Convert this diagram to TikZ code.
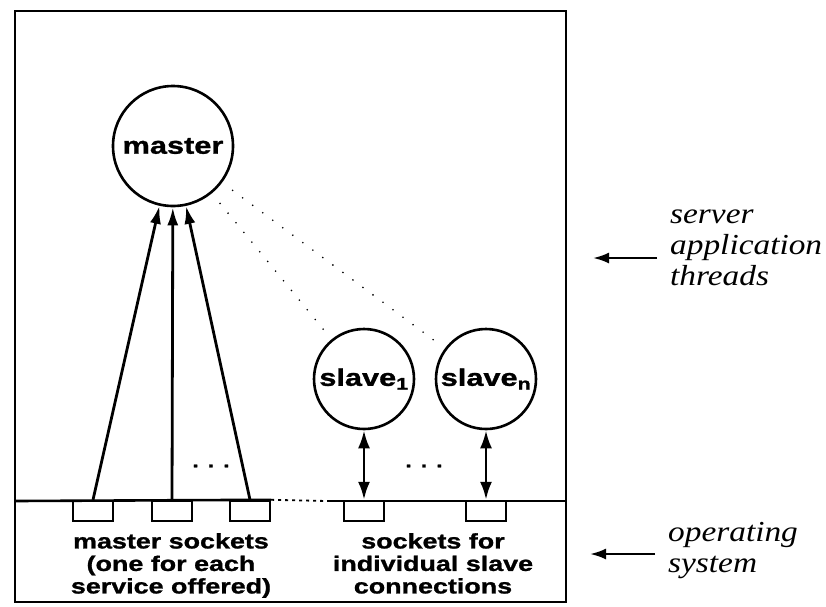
\documentclass[tikz,border=0pt]{standalone}
\usepackage{fontspec}
\usetikzlibrary{arrows.meta}
\newfontfamily\lblfont{Liberation Sans}[BoldFont={Liberation Sans Bold}, BoldFeatures={FakeStretch=1.28, FakeBold=1.2}]
\newfontfamily\sidefont{Liberation Serif}[ItalicFont={Liberation Serif Italic}, ItalicFeatures={FakeStretch=1.15}]
\begin{document}
\begin{tikzpicture}[x=1pt,y=-1pt,
  thread/.style={circle, draw, line width=2.6pt, inner sep=0pt},
  circtext/.style={font={\lblfont\bfseries\fontsize{24}{26}\selectfont}},
  sock/.style={draw, line width=2.4pt, minimum width=40pt, minimum height=20pt, inner sep=0pt},
  botlbl/.style={align=center, inner sep=0pt, font={\lblfont\bfseries\fontsize{21}{22.5}\selectfont}},
  sidelbl/.style={align=left, inner sep=0pt, font={\sidefont\itshape\fontsize{29}{31}\selectfont}},
  marrow/.style={line width=2.8pt, -{Latex[length=18pt,width=11pt]}},
  sarrow/.style={line width=2.8pt, {Latex[length=18pt,width=12pt]}-{Latex[length=18pt,width=12pt]}},
  siderow/.style={line width=2.4pt, -{Latex[length=16pt,width=11pt]}},
  dotline/.style={line width=1.8pt, line cap=round, dash pattern=on 0pt off 12.5pt},
  frame/.style={line width=2.6pt}
]
\useasboundingbox (0,0) rectangle (826,606);
% frame
\draw[frame] (15,11) rectangle (566,602);
% threads
\node[thread, minimum size=120pt, circtext] (master) at (173,146) {master};
\node[thread, minimum size=100pt, circtext] (slave1) at (364,379) {slave\textsubscript{1}};
\node[thread, minimum size=100pt, circtext] (slaven) at (486,379) {slave\textsubscript{n}};
% sockets
\node[sock] (s1) at (93,511) {};
\node[sock] (s2) at (172,511) {};
\node[sock] (s3) at (250,511) {};
\node[sock] (s4) at (364,511) {};
\node[sock] (s5) at (486,511) {};
% divider
\coordinate (dl) at (15,501);
\coordinate (dm) at (327,501);
\coordinate (dr) at (566,501);
\draw[frame] (dl) -- (s3.north east);
\draw[line width=1.8pt, dash pattern=on 3pt off 4pt] (s3.north east) -- (dm);
\draw[frame] (dm) -- (dr);
% arrows
\draw[marrow] (s1.north) -- (master);
\draw[marrow] (s2.north) -- (master);
\draw[marrow] (s3.north) -- (master);
\draw[sarrow] (slave1) -- (s4.north);
\draw[sarrow] (slaven) -- (s5.north);
% dotted
\draw[dotline, shorten <=13pt, shorten >=10pt] (master) -- (slave1);
\draw[dotline, shorten <=13pt, shorten >=10pt] (master) -- (slaven);
% ellipses
\node[font={\lblfont\bfseries\fontsize{18}{18}\selectfont}] (e1) at (211,466) {.\hspace{9pt}.\hspace{9pt}.};
\node[font={\lblfont\bfseries\fontsize{18}{18}\selectfont}] (e2) at (424,466) {.\hspace{9pt}.\hspace{9pt}.};
% bottom labels
\node[botlbl, anchor=north] (mtxt) at (171,533) {master sockets\\(one for each\\service offered)};
\node[botlbl, anchor=north] (stxt) at (433,533) {sockets for\\individual slave\\connections};
% side labels
\node[sidelbl, anchor=north west] (srv) at (670,210) {server\\application\\threads};
\node[sidelbl, anchor=north west] (os) at (668,522) {operating\\system};
\coordinate (a1s) at (657,258);
\coordinate (a1e) at (593,258);
\coordinate (a2s) at (655,554);
\coordinate (a2e) at (590,554);
\draw[siderow] (a1s) -- (a1e);
\draw[siderow] (a2s) -- (a2e);
\end{tikzpicture}
\end{document}
